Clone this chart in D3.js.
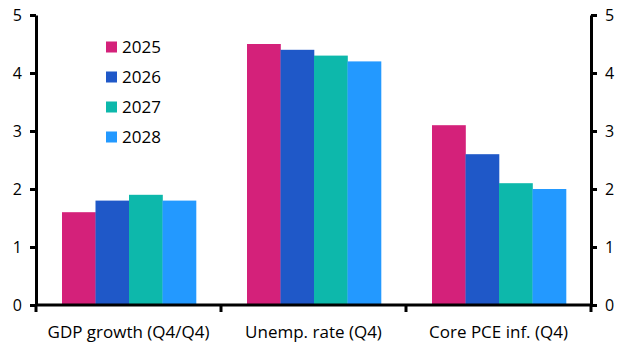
<!DOCTYPE html>
<html><head><meta charset="utf-8">
<script src="https://cdn.jsdelivr.net/npm/d3@7"></script>
<style>body{margin:0;background:#fff}svg{display:block}text{font-family:"Open Sans","Noto Sans",sans-serif}</style>
</head><body><svg id="c" width="630" height="355"></svg>
<script>
const categories = ["GDP growth (Q4/Q4)", "Unemp. rate (Q4)", "Core PCE inf. (Q4)"];
const seriesNames = ["2025", "2026", "2027", "2028"];
const v2025 = [1.6, 4.5, 3.1];
const v2026 = [1.8, 4.4, 2.6];
const v2027 = [1.9, 4.3, 2.1];
const v2028 = [1.8, 4.2, 2.0];
const yTicks = [0, 1, 2, 3, 4, 5];
const colors = ["#d4217a", "#1f58c8", "#0db8ab", "#2399ff"];

const values = [v2025, v2026, v2027, v2028];
const svg = d3.select("#c");
const L = 36, R = 591, T = 15, B = 305;
const x = d3.scaleBand().domain(categories).range([L, R]).paddingInner(0).paddingOuter(0);
const off = 26;
const xi = d3.scaleBand().domain(seriesNames).range([off, x.bandwidth() - 25]).paddingInner(0).paddingOuter(0);
const y = d3.scaleLinear().domain([0, 5]).range([B, T]);

const g = svg.append("g");
categories.forEach((c, ci) => {
  seriesNames.forEach((s, si) => {
    g.append("rect")
      .attr("x", x(c) + xi(s))
      .attr("y", y(values[si][ci]))
      .attr("width", xi.bandwidth() + 0.3)
      .attr("height", y(0) - y(values[si][ci]))
      .attr("fill", colors[si]);
  });
});

function styleAxis(sel) {
  sel.selectAll(".domain").attr("stroke", "#000").attr("stroke-width", 3);
  sel.selectAll(".tick line").attr("stroke", "#000").attr("stroke-width", 3);
  sel.selectAll(".tick text").attr("fill", "#000").style("font-size", "16px");
}

const yl = svg.append("g").attr("transform", `translate(${L},0)`)
  .call(d3.axisLeft(y).tickValues(yTicks).tickSize(6).tickSizeOuter(0).tickPadding(8).tickFormat(d3.format("d")));
styleAxis(yl);
const yr = svg.append("g").attr("transform", `translate(${R},0)`)
  .call(d3.axisRight(y).tickValues(yTicks).tickSize(6).tickSizeOuter(0).tickPadding(8).tickFormat(d3.format("d")));
styleAxis(yr);

const xa = svg.append("g");
xa.append("line").attr("x1", L).attr("x2", R).attr("y1", B).attr("y2", B).attr("stroke", "#000").attr("stroke-width", 3);
const bounds = categories.map(c => x(c)).concat([x(categories[categories.length - 1]) + x.bandwidth()]);
bounds.forEach(b => {
  xa.append("line").attr("x1", b).attr("x2", b).attr("y1", B).attr("y2", B + 7).attr("stroke", "#000").attr("stroke-width", 3);
});
categories.forEach(c => {
  xa.append("text").attr("x", x(c) + x.bandwidth() / 2).attr("y", 338)
    .attr("text-anchor", "middle").style("font-size", "17px").attr("fill", "#000").text(c);
});

const lg = svg.append("g");
seriesNames.forEach((s, i) => {
  const cy = 47 + i * 30;
  lg.append("rect").attr("x", 106).attr("y", cy - 5.5).attr("width", 11).attr("height", 11).attr("fill", colors[i]);
  lg.append("text").attr("x", 122).attr("y", cy).attr("dy", "0.35em").style("font-size", "17px").attr("fill", "#000").text(s);
});
</script></body></html>
